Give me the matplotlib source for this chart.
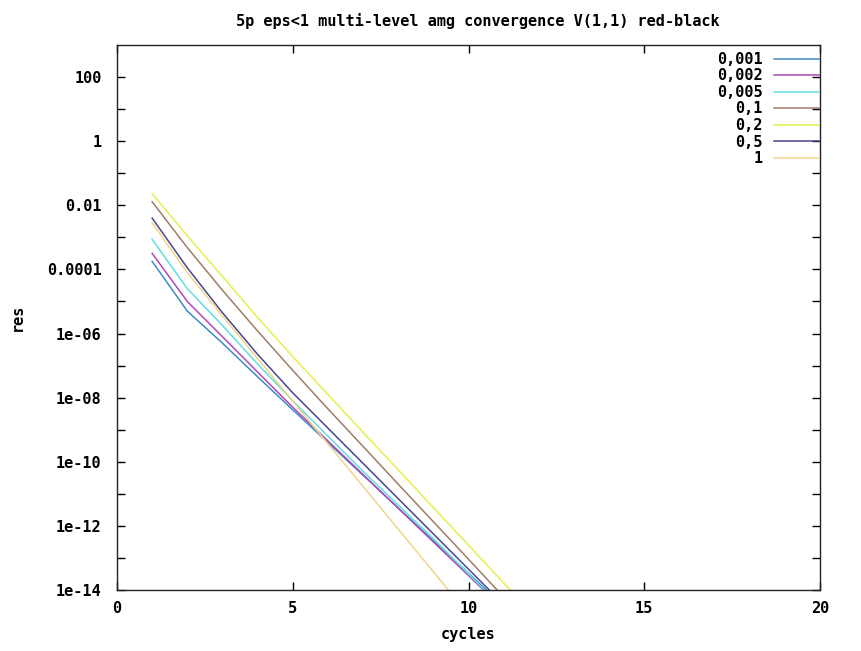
import matplotlib
matplotlib.use("Agg")
import matplotlib.pyplot as plt
from matplotlib.ticker import FixedLocator, NullFormatter

# ---- data ----
cycles = list(range(1, 13))
labels = ["0,001", "0,002", "0,005", "0,1", "0,2", "0,5", "1"]
res_0001 = [1.78e-4, 5.01e-6, 5.01e-7, 4.47e-8, 4.17e-9, 3.98e-10, 3.80e-11,
            3.63e-12, 3.47e-13, 3.31e-14, 3.16e-15]
res_0002 = [3.16e-4, 1.0e-5, 7.94e-7, 6.31e-8, 5.01e-9, 4.47e-10, 3.98e-11,
            3.55e-12, 3.16e-13, 2.82e-14, 2.51e-15]
res_0005 = [8.71e-4, 2.51e-5, 1.78e-6, 1.12e-7, 7.94e-9, 6.31e-10, 5.01e-11,
            4.47e-12, 3.98e-13, 3.16e-14, 2.51e-15]
res_01 = [1.29e-2, 4.79e-4, 2.24e-5, 1.20e-6, 7.08e-8, 4.47e-9, 3.02e-10,
          2.0e-11, 1.35e-12, 9.12e-14, 6.03e-15]
res_02 = [2.29e-2, 1.12e-3, 6.03e-5, 3.16e-6, 1.91e-7, 1.26e-8, 8.32e-10,
          5.62e-11, 3.72e-12, 2.51e-13, 1.66e-14, 1.12e-15]
res_05 = [3.98e-3, 1.12e-4, 4.47e-6, 2.24e-7, 1.41e-8, 1.12e-9, 8.91e-11,
          7.08e-12, 5.62e-13, 4.47e-14, 3.55e-15]
res_1 = [2.82e-3, 7.94e-5, 3.55e-6, 1.66e-7, 7.76e-9, 3.63e-10, 1.70e-11,
         7.94e-13, 3.72e-14, 1.74e-15]
series = [res_0001, res_0002, res_0005, res_01, res_02, res_05, res_1]
colors = ["#3d8cc4", "#b048b8", "#62dede", "#a07c68", "#e6ee50", "#484890", "#f0d68a"]

ytick_vals = [1e2, 1, 1e-2, 1e-4, 1e-6, 1e-8, 1e-10, 1e-12, 1e-14]
ytick_labels = ["100", "1", "0.01", "0.0001", "1e-06", "1e-08", "1e-10", "1e-12", "1e-14"]
yminor_vals = [1e1, 1e-1, 1e-3, 1e-5, 1e-7, 1e-9, 1e-11, 1e-13]
xtick_vals = [0, 5, 10, 15, 20]

FS = 11
font = dict(family="DejaVu Sans Mono", weight="bold", size=FS)

fig = plt.figure(figsize=(8.61, 6.51), dpi=100)
ax = fig.add_axes([117/861, 1-590/651, (820-117)/861, (590-45)/651])

for vals, lab, c in zip(series, labels, colors):
    ax.plot(cycles[:len(vals)], vals, color=c, lw=1.1, label=lab)

ax.set_yscale("log")
ax.set_xlim(0, 20)
ax.set_ylim(1e-14, 1e3)
ax.yaxis.set_major_locator(FixedLocator(ytick_vals))
ax.set_yticklabels(ytick_labels, fontdict=font)
ax.yaxis.set_minor_locator(FixedLocator(yminor_vals))
ax.yaxis.set_minor_formatter(NullFormatter())
ax.set_xticks(xtick_vals)
ax.set_xticklabels([str(v) for v in xtick_vals], fontdict=font)

ax.tick_params(which="both", direction="in", top=True, right=True, color="black")
ax.tick_params(which="major", length=6, width=1)
ax.tick_params(axis="y", which="major", pad=11)
ax.tick_params(axis="x", which="major", pad=8)
ax.tick_params(which="minor", length=6, width=1)
for s in ax.spines.values():
    s.set_linewidth(1.0)
    s.set_color("#222222")

ax.set_xlabel("cycles", fontdict=font, labelpad=8)
ax.set_ylabel("res", fontdict=font, labelpad=16)
ax.set_title("5p eps<1 multi-level amg convergence V(1,1) red-black",
             fontdict=font, pad=14, x=0.513)

leg = ax.legend(loc="upper right", bbox_to_anchor=(1.009, 1.0),
                frameon=False, markerfirst=False,
                prop=dict(family="DejaVu Sans Mono", weight="bold", size=FS),
                handlelength=3.0, labelspacing=0.1, borderaxespad=0.0,
                borderpad=0.45, handletextpad=0.7)
for t in leg.get_texts():
    t.set_ha("right")

fig.savefig("out.png", dpi=100, facecolor="white")
